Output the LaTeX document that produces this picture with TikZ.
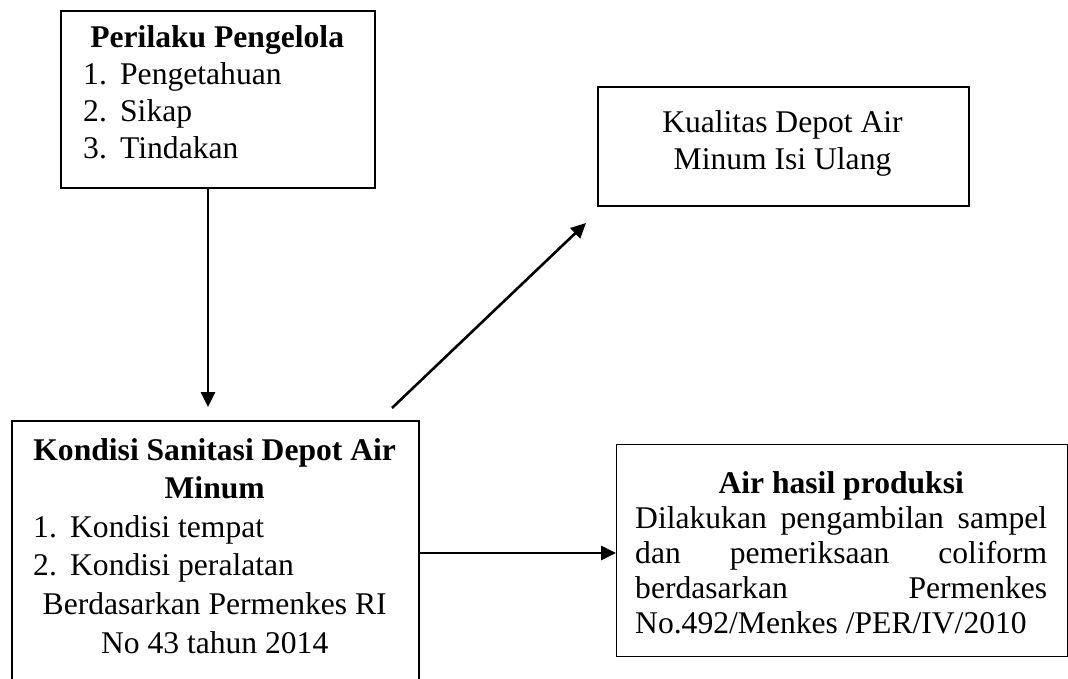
\documentclass[tikz,border=0pt]{standalone}
\usepackage{fontspec}
\setmainfont{Liberation Serif}
\usetikzlibrary{arrows.meta}
\newcommand\dfont[1]{\fontsize{31.6}{#1}\selectfont}
\begin{document}
\begin{tikzpicture}[x=1pt,y=-1pt,
  box/.style={draw=black, line width=2pt, inner sep=0pt, anchor=north west},
  thinbox/.style={box, line width=1.3pt},
  txt/.style={inner sep=0pt, anchor=base west},
  arr/.style={draw=black, line width=2.6pt, -{Triangle[length=15pt,width=14pt]}}]
\useasboundingbox (0,0) rectangle (1068,679);
\clip (0,0) rectangle (1068,679);

% boxes
\node[box, minimum width=314pt, minimum height=177pt] (b1) at (60,10) {};
\node[box, minimum width=371pt, minimum height=119pt] (b2) at (597,86) {};
\node[box, minimum width=407pt, minimum height=290pt] (b3) at (11,420) {};
\node[thinbox, minimum width=451pt, minimum height=212pt] (b4) at (616,444) {};

% texts
\node[txt] (t1) at (60,48) {\parbox[t]{314pt}{\dfont{36.7}\centering\textbf{Perilaku Pengelola}\par
  \raggedright
  \hspace*{23pt}\makebox[37pt][l]{1.}Pengetahuan\\
  \hspace*{23pt}\makebox[37pt][l]{2.}Sikap\\
  \hspace*{23pt}\makebox[37pt][l]{3.}Tindakan\par}};

\node[txt, anchor=base] (t2) at (782.5,133) {\parbox[t]{360pt}{\dfont{37}\centering Kualitas Depot Air\\Minum Isi Ulang\par}};

\node[txt] (t3) at (11,460) {\parbox[t]{407pt}{\dfont{38.6}\centering\textbf{Kondisi Sanitasi Depot Air\\Minum}\par
  \raggedright
  \hspace*{22pt}\makebox[37pt][l]{1.}Kondisi tempat\\
  \hspace*{22pt}\makebox[37pt][l]{2.}Kondisi peralatan\par
  \centering Berdasarkan Permenkes RI\\No 43 tahun 2014\par}};

\node[txt] (t4) at (635,493) {\parbox[t]{412pt}{\dfont{35}\centering\textbf{Air hasil produksi}\par
  \raggedright
  \makebox[\linewidth][s]{Dilakukan pengambilan sampel}\\
  \makebox[\linewidth][s]{dan pemeriksaan coliform}\\
  \makebox[\linewidth][s]{berdasarkan Permenkes}\\
  No.492/Menkes /PER/IV/2010\par}};

% connectors
\coordinate (v1) at (208,407);
\draw[arr] (v1 |- b1.south) -- (v1);

\coordinate (d0) at (392,408);
\coordinate (d1) at (586,223);
\draw[arr] (d0) -- (d1);

\coordinate (h) at (0,553);
\draw[arr] (b3.east |- h) -- (b4.west |- h);
\end{tikzpicture}
\end{document}
